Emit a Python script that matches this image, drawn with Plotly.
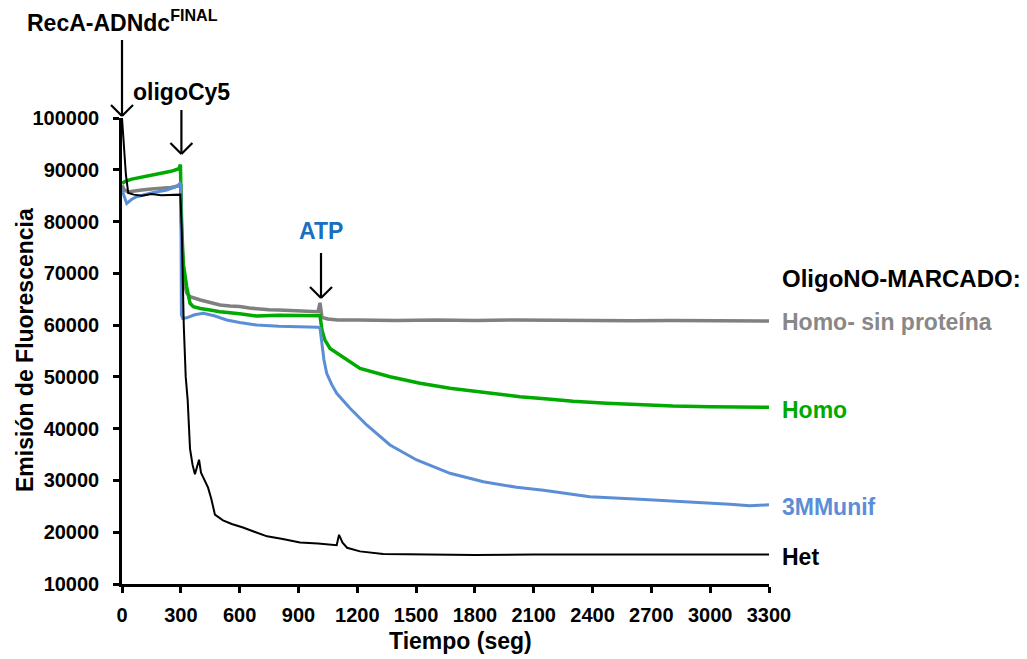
import plotly.graph_objects as go

# ---------------- data ----------------
t_gray = [0, 10, 30, 60, 100, 150, 200, 250, 290, 300, 306, 315, 330, 347, 400, 450, 500, 550,
          600, 650, 700, 750, 800, 850, 900, 950, 1000, 1010, 1020, 1050, 1100, 1200, 1400, 1600,
          1800, 2000, 2200, 2400, 2600, 2800, 3000, 3200, 3300]
v_gray = [87000, 86200, 85700, 85900, 86100, 86300, 86400, 86600, 86900, 87200, 76000, 68500, 66200, 65500,
          64850, 64300, 63900, 63700, 63600, 63300, 63050, 62950, 62900, 62800, 62700, 62650, 62600, 64300,
          61500, 61200, 61000, 61000, 60900, 61000, 60900, 61000, 60900, 60900, 60850, 60900, 60850, 60800, 60800]

t_green = [0, 20, 50, 100, 150, 200, 250, 290, 298, 303, 313, 330, 347, 364, 400, 449, 500, 600, 687,
           800, 900, 1000, 1010, 1020, 1035, 1061, 1112, 1214, 1367, 1520, 1673, 1826, 2030, 2172, 2300,
           2472, 2650, 2810, 3000, 3150, 3300]
v_green = [87400, 87800, 88200, 88600, 89000, 89300, 89700, 90200, 91000, 80000, 71800, 67400, 64200, 63560,
           63200, 62920, 62600, 62200, 61760, 61900, 61900, 61950, 61800, 59000, 57100, 55500, 54200, 51650,
           50040, 48760, 47800, 47140, 46180, 45750, 45300, 44900, 44600, 44380, 44250, 44150, 44130]

t_blue = [0, 10, 24, 50, 75, 150, 228, 280, 296, 300, 303, 310, 330, 370, 415, 470, 534, 600, 687, 800,
          900, 1000, 1010, 1020, 1030, 1044, 1070, 1095, 1163, 1248, 1367, 1503, 1673, 1843, 2013, 2150, 2386,
          2641, 2896, 3100, 3202, 3300]
v_blue = [86100, 85000, 83500, 84300, 84800, 85500, 86100, 86800, 87400, 87000, 62000, 61300, 61400, 62000,
          62280, 61800, 60990, 60500, 60020, 59800, 59700, 59600, 59400, 56000, 53300, 50700, 48500, 46830,
          43930, 40710, 36850, 33950, 31380, 29760, 28670, 28100, 26860, 26350, 25900, 25400, 25100, 25300]

t_black = [0, 4, 10, 20, 32, 60, 100, 150, 200, 250, 298, 305, 315, 325, 335, 347, 360, 372, 385, 393,
           403, 414, 439, 455, 474, 515, 560, 617, 680, 740, 820, 908, 1000, 1077, 1095, 1107, 1125, 1148,
           1214, 1332, 1500, 1800, 2100, 2400, 2700, 3000, 3300]
v_black = [100000, 98000, 94000, 89000, 85500, 85200, 85000, 85300, 85100, 85200, 85200, 78000, 60000, 50000,
           45500, 36100, 33000, 31200, 33000, 34000, 31500, 30600, 28600, 26500, 23400, 22300, 21600, 20900,
           20100, 19200, 18700, 18000, 17800, 17600, 17500, 19500, 18000, 17000, 16300, 15800, 15700, 15600,
           15700, 15700, 15700, 15700, 15700]

x_ticks = [0, 300, 600, 900, 1200, 1500, 1800, 2100, 2400, 2700, 3000, 3300]
y_ticks = [10000, 20000, 30000, 40000, 50000, 60000, 70000, 80000, 90000, 100000]

series_names = ["Homo- sin proteína", "Homo", "3MMunif", "Het"]
series_colors = ["#808080", "#00aa00", "#5b8ed6", "#000000"]
label_colors = ["#888888", "#00aa00", "#5b8ed6", "#000000"]
events = [("RecA-ADNdc<sup>FINAL</sup>", 0), ("oligoCy5", 303), ("ATP", 1015)]

FONT = "Liberation Sans, Arial, sans-serif"

# ---------------- figure ----------------
fig = go.Figure()
series = [(t_gray, v_gray), (t_green, v_green), (t_blue, v_blue), (t_black, v_black)]
widths = [3.5, 3.5, 3, 2]
for (t, v), name, col, w in zip(series, series_names, series_colors, widths):
    fig.add_trace(go.Scatter(x=t, y=v, mode="lines", name=name,
                             line=dict(color=col, width=w), showlegend=False))

L, R, T, B = 122, 258, 118, 75
W, H = 1027, 659
pw = W - L - R
ph = H - T - B

def px_x(p):
    return (p - L) / pw

def px_y(p):
    return (H - B - p) / ph

def t_to_paper(t):
    return t / 3300.0

fig.update_layout(
    width=W, height=H,
    margin=dict(l=L, r=R, t=T, b=B, pad=0),
    paper_bgcolor="white", plot_bgcolor="white",
    font=dict(family=FONT, color="black"),
    xaxis=dict(range=[0, 3300], tickvals=x_ticks, ticktext=[str(v) for v in x_ticks],
               showgrid=False, zeroline=False, showline=True, linecolor="black", linewidth=2.5,
               ticks="outside", ticklen=6, tickwidth=2.5, tickcolor="black",
               tickfont=dict(family=FONT, size=20, color="black", weight="bold"),
               ticklabelstandoff=5),
    yaxis=dict(range=[10000, 100000], tickvals=y_ticks, ticktext=[str(v) for v in y_ticks],
               showgrid=False, zeroline=False, showline=True, linecolor="black", linewidth=2.5,
               ticks="outside", ticklen=6, tickwidth=2.5, tickcolor="black",
               tickfont=dict(family=FONT, size=20, color="black", weight="bold"),
               ticklabelstandoff=10),
)

ann = []
shapes = []
# axis titles
ann.append(dict(text="<b>Emisión de Fluorescencia</b>", xref="paper", yref="paper",
                x=px_x(25), y=px_y(350), textangle=-90, showarrow=False,
                font=dict(family=FONT, size=23, color="black"), xanchor="center", yanchor="middle"))
ann.append(dict(text="<b>Tiempo (seg)</b>", xref="paper", yref="paper",
                x=px_x(460), y=px_y(641), showarrow=False,
                font=dict(family=FONT, size=23, color="black"), xanchor="center", yanchor="middle"))

# event arrows (drawn as open chevron arrows) and labels
arrow_specs = [(116, 76), (154, 44), (298, 45)]   # tip pixel row, shaft length
text_specs = [(21, "black"), (92, "black"), (231, "#1a70c0")]
line_style = dict(color="black", width=2.2)
for (label, tx), (tip, length), (ty, col) in zip(events, arrow_specs, text_specs):
    xa = t_to_paper(tx)
    ya = px_y(tip)
    common = dict(type="line", xref="paper", yref="paper", xsizemode="pixel", ysizemode="pixel",
                  xanchor=xa, yanchor=ya, line=line_style, layer="above")
    shapes.append(dict(common, x0=0, x1=0, y0=0, y1=length))
    shapes.append(dict(common, x0=-11, x1=0, y0=11, y1=0))
    shapes.append(dict(common, x0=11, x1=0, y0=11, y1=0))
    ann.append(dict(text="<b>" + label + "</b>", xref="paper", yref="paper", x=xa, y=px_y(ty),
                    showarrow=False, font=dict(family=FONT, size=23, color=col),
                    xanchor="center", yanchor="middle"))

# right-hand labels
ann.append(dict(text="<b>OligoNO-MARCADO:</b>", xref="paper", yref="paper", x=px_x(780), y=px_y(278),
                showarrow=False, font=dict(family=FONT, size=24, color="black"),
                xanchor="left", yanchor="middle"))
label_y = [322, 410, 507, 557]
for name, col, ly in zip(series_names, label_colors, label_y):
    ann.append(dict(text="<b>" + name + "</b>", xref="paper", yref="paper", x=px_x(780), y=px_y(ly),
                    showarrow=False, font=dict(family=FONT, size=23, color=col),
                    xanchor="left", yanchor="middle"))

fig.update_layout(annotations=ann, shapes=shapes)
fig.write_html("out.html")
